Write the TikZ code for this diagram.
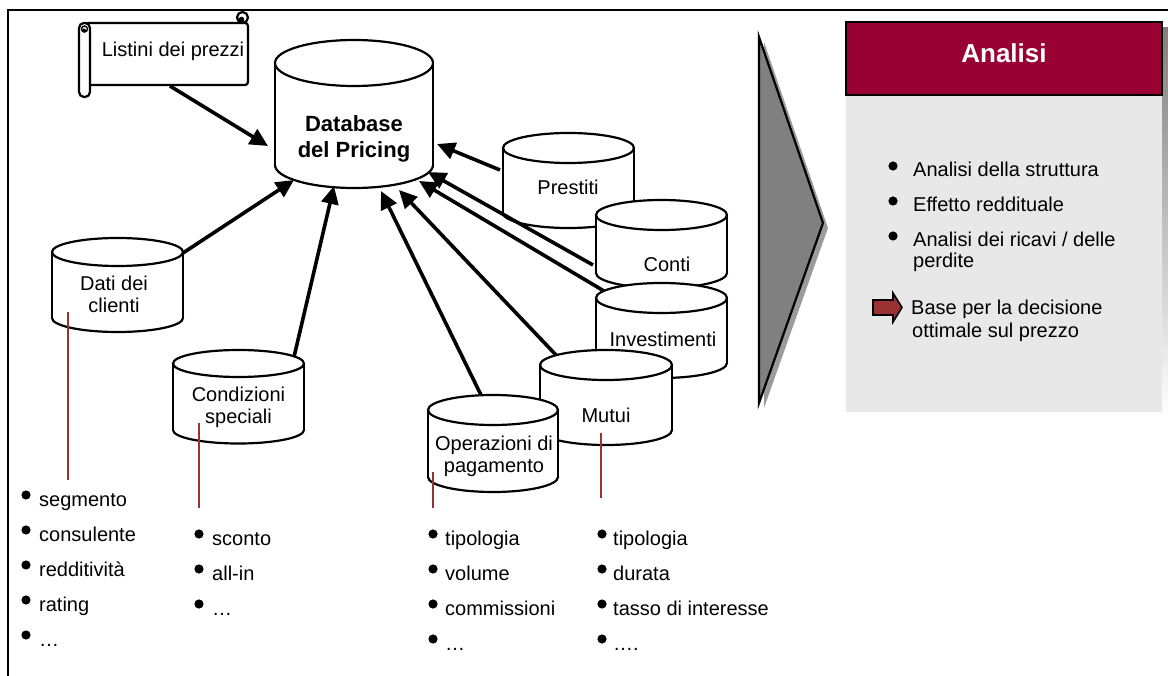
\documentclass[tikz,border=0pt]{standalone}
\usepackage{fontspec}
\setmainfont{Liberation Sans}
\usetikzlibrary{arrows.meta,calc}

\definecolor{bordeaux}{RGB}{153,0,51}
\definecolor{rust}{RGB}{153,51,51}
\definecolor{panelgray}{RGB}{232,232,232}
\definecolor{shade}{RGB}{128,128,128}
\definecolor{softshade}{RGB}{155,155,155}

% database drum: name, centre x, centre y of the top ellipse, x radius, side length, y radius
\newcommand\drum[6]{%
  \draw[drumline,fill=white] (#2,#3+#5) ellipse [x radius=#4pt, y radius=#6pt];
  \fill[white] (#2-#4,#3) rectangle (#2+#4,#3+#5);
  \draw[drumline] (#2-#4,#3) -- (#2-#4,#3+#5) (#2+#4,#3) -- (#2+#4,#3+#5);
  \draw[drumline,fill=white] (#2,#3) ellipse [x radius=#4pt, y radius=#6pt];
  \node[hook,minimum width={2*#4*1pt},minimum height={(#5+2*#6)*1pt}] (#1) at (#2,#3+#5/2) {};
}

% bulleted line: name, bullet x, text x, baseline y, text
\newcommand\bul[5]{%
  \fill (#2,#4-11) circle (4.6pt);
  \node[txt,anchor=base west] (#1) at (#3,#4) {#5};
}

\begin{document}
\begin{tikzpicture}[x=1pt,y=-1pt,
  txt/.style={inner sep=0pt,font=\fontsize{20}{22}\selectfont},
  boldtxt/.style={inner sep=0pt,align=center,font=\fontsize{22}{26}\selectfont\bfseries},
  drumline/.style={line width=2.2pt},
  feed/.style={line width=3.6pt,-{Triangle[length=18pt,width=17pt]}},
  tie/.style={rust,line width=1.8pt},
  hook/.style={inner sep=0pt,outer sep=0pt,draw=none}]
\useasboundingbox (0,0) rectangle (1168,676);

% frame
\draw[line width=2.2pt] (8,676) -- (8,10) -- (1168,10);

% price list scroll
\draw[drumline,fill=white,rounded corners=3pt] (85,23) -- (248,23) -- (248,85) -- (85,85) -- cycle;
\draw[drumline,fill=white] (242.5,17.5) circle (5.5pt);
\fill (241.5,19.5) circle (2.8pt);
\draw[drumline,fill=white,rounded corners=5pt] (79,23) rectangle (90,97);
\draw[line width=1.4pt] (84.5,29) circle (3pt);
\fill (84,30.5) circle (2pt);
\node[hook,minimum width=169pt,minimum height=85pt] (listini) at (163.5,54.5) {};
\node[txt,anchor=base] (listinitxt) at (173,57) {Listini dei prezzi};

% central database
\drum{db}{354}{63}{79}{102}{23}
\node[boldtxt] (dbtxt) at (354,139) {Database\\del Pricing};

% customer data and special conditions
\drum{dati}{117.5}{252}{65.5}{66}{14}
\node[txt,align=center] (datitxt) at (114,294) {Dati dei\\clienti};
\drum{cond}{238.5}{363.5}{65.5}{66.5}{13.5}
\node[txt,align=center] (condtxt) at (238.5,407) {Condizioni\\speciali};

% product stack
\drum{prest}{568.5}{148}{65.5}{65}{15}
\node[txt,anchor=base] (presttxt) at (568,195) {Prestiti};
\drum{conti}{661.5}{215}{65.5}{58}{15}
\node[txt,anchor=base] (contitxt) at (667,272) {Conti};
\drum{inv}{661.5}{298}{65.5}{65}{15}
\node[txt,anchor=base] (invtxt) at (663,347) {Investimenti};
\drum{mutui}{606}{365}{66}{65}{15}
\node[txt,anchor=base] (mutuitxt) at (606,422) {Mutui};
\drum{oper}{493}{410}{65}{67}{15}
\node[txt,align=center] (opertxt) at (494,456) {Operazioni di\\pagamento};

% feeds into the pricing database
\draw[feed] ($(listini.center)+(6.5,31.5)$) -- ($(db.center)+(-86,32)$);
\draw[feed] ($(dati.center)+(65.5,-32)$) -- ($(db.center)+(-60,66)$);
\draw[feed] ($(cond.center)+(55.5,-39.75)$) -- ($(db.center)+(-20,72)$);
\draw[feed] ($(oper.center)+(-12,-48.5)$) -- ($(db.center)+(27,77)$);
\draw[feed] ($(mutui.center)+(-50,-42.5)$) -- ($(db.center)+(45,76)$);
\draw[feed] ($(inv.center)+(-57.5,-39.5)$) -- ($(db.center)+(65,67)$);
\draw[feed] ($(conti.center)+(-68.5,21)$) -- ($(db.center)+(74,58)$);
\draw[feed] ($(prest.center)+(-68.5,-10.5)$) -- ($(db.center)+(83,30)$);

% detail ties
\coordinate (datitop) at (68,312);   \coordinate (datibot) at (68,480);
\coordinate (condtop) at (199,423);  \coordinate (condbot) at (199,508);
\coordinate (opertop) at (433,472);  \coordinate (operbot) at (433,508);
\coordinate (mutuitop) at (601,433); \coordinate (mutuibot) at (601,498);
\draw[tie] (datitop) -- (datibot);
\draw[tie] (condtop) -- (condbot);
\draw[tie] (opertop) -- (operbot);
\draw[tie] (mutuitop) -- (mutuibot);

% attribute lists
\bul{d1}{26}{39}{506}{segmento}
\bul{d2}{26}{39}{541}{consulente}
\bul{d3}{26}{39}{576}{redditività}
\bul{d4}{26}{39}{611}{rating}
\bul{d5}{26}{39}{646}{…}

\bul{c1}{199}{212}{545}{sconto}
\bul{c2}{199}{212}{580}{all-in}
\bul{c3}{199}{212}{615}{…}

\bul{o1}{433}{445}{545}{tipologia}
\bul{o2}{433}{445}{580}{volume}
\bul{o3}{433}{445}{615}{commissioni}
\bul{o4}{433}{445}{650}{…}

\bul{m1}{602}{613}{545}{tipologia}
\bul{m2}{602}{613}{580}{durata}
\bul{m3}{602}{613}{615}{tasso di interesse}
\bul{m4}{602}{613}{650}{….}

% chevron
\fill[softshade] (764,42) -- (828,228) -- (764,408) -- cycle;
\draw[line width=2.2pt,fill=shade] (759,37) -- (823,223) -- (759,403) -- cycle;

% analysis panel
\fill[shade] (852,28) rectangle (1168,418);
\fill[panelgray] (846,95) rectangle (1162,412);
\draw[line width=2.2pt,fill=bordeaux] (846,22) rectangle (1162,95);
\node[inner sep=0pt,anchor=base,text=white,font=\fontsize{26}{30}\selectfont\bfseries] (headtxt) at (1004,63) {Analisi};

\bul{a1}{893}{913}{177}{Analisi della struttura}
\bul{a2}{893}{913}{212}{Effetto reddituale}
\bul{a3}{893}{913}{247}{Analisi dei ricavi / delle}
\node[txt,anchor=base west] (a3b) at (913,268) {perdite};

\draw[line width=1.6pt,fill=rust] (873,300) -- (893,300) -- (893,293) -- (902,307.5) -- (893,322) -- (893,315) -- (873,315) -- cycle;
\node[txt,anchor=base west] (b1) at (911,315) {Base per la decisione};
\node[txt,anchor=base west] (b2) at (912,338) {ottimale sul prezzo};
\end{tikzpicture}
\end{document}
